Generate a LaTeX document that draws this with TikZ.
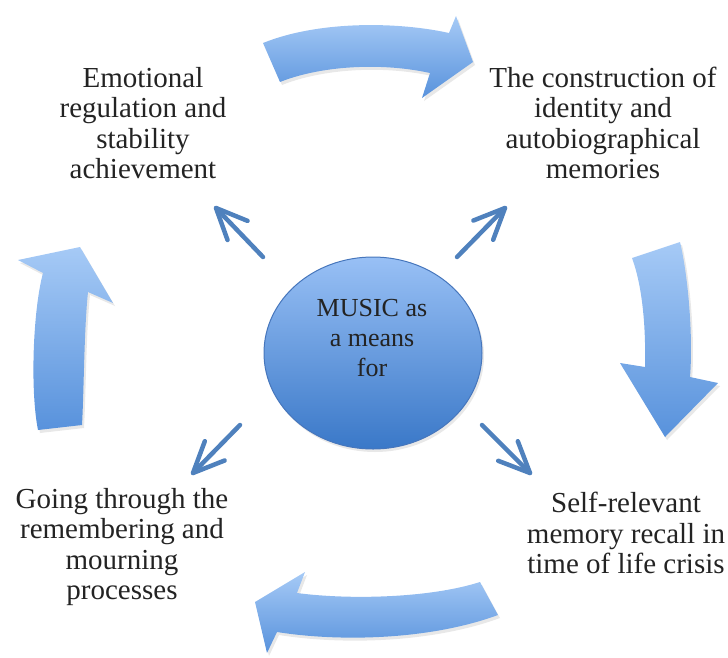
\documentclass[tikz,border=0pt]{standalone}
\usepackage{fontspec}
\setmainfont{Liberation Serif}
\usetikzlibrary{calc,shadows,shapes.geometric}
\definecolor{bigtop}{RGB}{166,202,246}
\definecolor{bigbot}{RGB}{88,146,220}
\definecolor{elltop}{RGB}{152,192,245}
\definecolor{ellbot}{RGB}{58,120,200}
\definecolor{ellline}{RGB}{70,118,188}
\definecolor{smallarr}{RGB}{79,129,189}
\definecolor{txt}{RGB}{35,35,35}
\tikzset{
  bigarrow/.style={top color=bigtop, bottom color=bigbot, draw=none,
    drop shadow={opacity=0.18, shadow xshift=2pt, shadow yshift=-3pt}},
  outtext/.style={inner sep=0pt, align=center, text=txt,
    font=\fontsize{29}{30.5}\selectfont},
  intext/.style={inner sep=0pt, align=center, text=txt,
    font=\fontsize{26}{30}\selectfont},
  ray/.style={draw=smallarr, line width=4.5pt, line cap=round, line join=round},
}
\begin{document}
\begin{tikzpicture}[x=1pt,y=-1pt]
\useasboundingbox (0,0) rectangle (728,657);

% big curved arrows
\path[bigarrow] (263,43) .. controls (320,20) and (400,22) .. (449,33)
  -- (456,16) -- (473,62) -- (422,98) -- (430,73)
  .. controls (380,62) and (320,66) .. (280,82) -- cycle;
\path[bigarrow] (632,258) -- (680,242) .. controls (689,280) and (693,340) .. (690,377)
  -- (718,383) -- (665,437) -- (620,363) -- (645,367)
  .. controls (646,325) and (642,285) .. (632,258) -- cycle;
\path[bigarrow] (480,582) .. controls (430,598) and (350,600) .. (297,593)
  -- (305,572) -- (255,602) -- (267,653) -- (277,632)
  .. controls (340,642) and (430,640) .. (498,615) -- cycle;
\path[bigarrow] (38,430) .. controls (30,390) and (33,310) .. (43,273)
  -- (18,260) -- (80,247) -- (113,303) -- (88,292)
  .. controls (84,330) and (84,390) .. (82,425) -- cycle;

% central ellipse
\node[ellipse, minimum width=218pt, minimum height=192pt, inner sep=0pt,
  top color=elltop, bottom color=ellbot, draw=ellline, line width=1pt,
  drop shadow={opacity=0.18, shadow xshift=2pt, shadow yshift=-3pt}] (music) at (373,353) {};
\node[intext] (musictext) at (372,338.5) {MUSIC as\\a means\\for};

% outer texts
\node[outtext] (emo) at (143,123) {Emotional\\regulation and\\stability\\achievement};
\node[outtext] (ident) at (603,123) {The construction of\\identity and\\autobiographical\\memories};
\node[outtext] (self) at (626,533) {Self-relevant\\memory recall in\\time of life crisis};
\node[outtext] (mourn) at (122,547) {Going through the\\remembering and\\mourning\\processes};

% small arrows
\coordinate (ulT) at (263,257); \coordinate (ulH) at (216,208);
\coordinate (urT) at (457,257); \coordinate (urH) at (505,208);
\coordinate (llT) at (240,425); \coordinate (llH) at (193,473);
\coordinate (lrT) at (482,425); \coordinate (lrH) at (530,473);
\foreach \t/\h in {ulT/ulH, urT/urH, llT/llH, lrT/lrH}{
  \draw[ray] (\t) -- (\h);
  \draw[ray] ($(\h)!34pt!24:(\t)$) -- (\h) -- ($(\h)!34pt!-24:(\t)$);
}
\end{tikzpicture}
\end{document}
